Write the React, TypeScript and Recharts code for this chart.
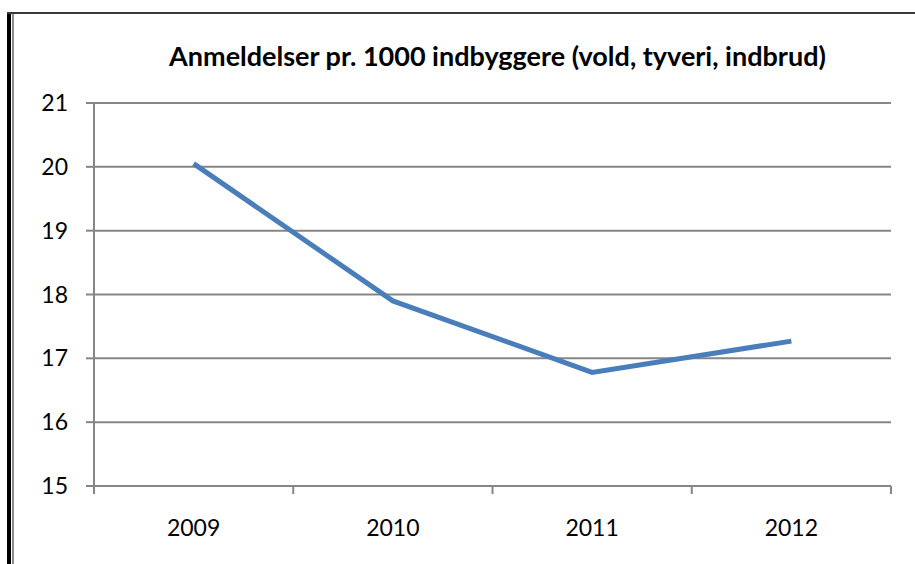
import { LineChart, Line, XAxis, YAxis, CartesianGrid } from 'recharts';

const years = ['2009', '2010', '2011', '2012'];
const reports = [20.05, 17.9, 16.78, 17.27];
const yTicks = [15, 16, 17, 18, 19, 20, 21];

const data = years.map((year, i) => ({ year, value: reports[i] }));

const GRID = '#868686';
const FONT = 'Lato, "Open Sans", sans-serif';

function YearTick(props: any) {
  const { x, y, payload, index } = props;
  const half = payload.offset ?? 0;
  return (
    <g>
      <line x1={x - half} y1={y - 8} x2={x - half} y2={y} stroke={GRID} strokeWidth={2} />
      {index === years.length - 1 && (
        <line x1={x + half} y1={y - 8} x2={x + half} y2={y} stroke={GRID} strokeWidth={2} />
      )}
      <text x={x} y={y + 42} textAnchor="middle" fontSize={23} fontFamily={FONT} fill="#000">
        {payload.value}
      </text>
    </g>
  );
}

export default function App() {
  return (
    <div style={{ position: 'absolute', left: 0, top: 0, width: 915, height: 564, background: '#fff' }}>
      {/* frame */}
      <div style={{ position: 'absolute', left: 7, top: 12, width: 4, height: 552, background: '#000' }} />
      <div style={{ position: 'absolute', left: 12, top: 13, width: 2, height: 551, background: '#8c8c8c' }} />
      <div style={{ position: 'absolute', left: 7, top: 12, width: 908, height: 2, background: '#3a3a3a' }} />

      <div
        style={{
          position: 'absolute',
          left: 0,
          top: 39,
          width: 995,
          textAlign: 'center',
          fontFamily: FONT,
          fontWeight: 'bold',
          fontSize: 27,
          color: '#000',
          whiteSpace: 'nowrap',
        }}
      >
        Anmeldelser pr. 1000 indbyggere (vold, tyveri, indbrud)
      </div>

      <LineChart
        width={915}
        height={564}
        data={data}
        margin={{ top: 103, right: 24, left: 34, bottom: 48 }}
        style={{ position: 'absolute', left: 0, top: 0 }}
      >
        <CartesianGrid vertical={false} stroke={GRID} strokeWidth={2} />
        <XAxis
          dataKey="year"
          scale="band"
          height={30}
          axisLine={{ stroke: GRID, strokeWidth: 2 }}
          tickLine={false}
          tick={<YearTick />}
          interval={0}
        />
        <YAxis
          width={60}
          domain={[15, 21]}
          ticks={yTicks}
          interval={0}
          axisLine={{ stroke: GRID, strokeWidth: 2 }}
          tickLine={{ stroke: GRID, strokeWidth: 2 }}
          tickSize={8}
          tickMargin={18}
          tick={{ fontSize: 23, fontFamily: FONT, fill: '#000' }}
        />
        <Line
          type="linear"
          dataKey="value"
          stroke="#4a7ebb"
          strokeWidth={5}
          dot={false}
          isAnimationActive={false}
        />
      </LineChart>
    </div>
  );
}
